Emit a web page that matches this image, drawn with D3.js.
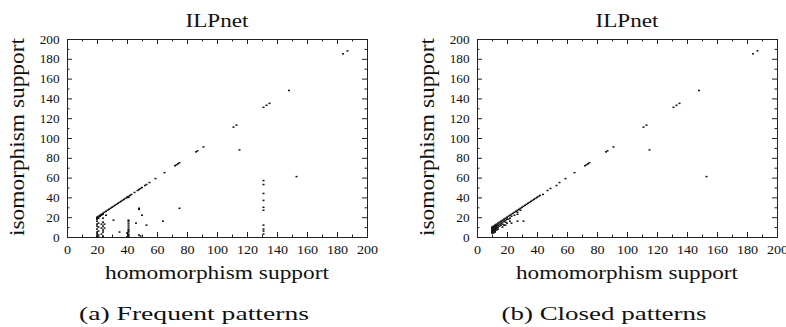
<!DOCTYPE html>
<html>
<head>
<meta charset="utf-8">
<script src="https://cdn.jsdelivr.net/npm/d3@7"></script>
<style>
  body { margin: 0; background: #fff; }
  svg text { font-family: "Liberation Serif", Tinos, "Times New Roman", Times, "DejaVu Serif", serif; }
</style>
</head>
<body>
<svg id="chart" width="786" height="327"></svg>
<script>
// tick values shared by both panels
const majorTicks = [0, 20, 40, 60, 80, 100, 120, 140, 160, 180, 200];
const minorTicks = [10, 30, 50, 70, 90, 110, 130, 150, 170, 190];

// (a) frequent patterns: [homomorphism support, isomorphism support]
const freqDiagonal = [[20,20],[21,21],[22,22],[23,23],[24,24],[25,25],[26,26],[27,27],[28,28],[29,29],
  [30,30],[31,31],[32,32],[33,33],[34,34],[35,35],[36,36],[37,37],[38,38],[39,39],[40,40],[41,41],
  [42,42],[43,43],[45,45],[47,47],[48,48],[49,49],[50,50],[52,52],[53,53],[55,55],[59,59],[65,65],
  [72,72],[73,73],[74,74],[75,75],[86,86],[87,87],[91,91],[111,111],[113,113],[131,131],[133,133],
  [135,135],[148,148],[184,185],[187,188],
  [20,19],[21,20],[22,21],[23,22],[24,23],[21,19],[40,40],[41,40]];
const freqColumns = [[20,0],[20,1],[20,3],[20,5],[20,8],[20,11],[20,13],[20,16],[20,18],
  [21,0],[21,2],[21,6],[21,10],[21,14],
  [23,3],[23,9],[23,13],[24,0],[24,1],[24,5],[24,7],[24,11],[24,15],[24,19],
  [25,9],[25,13],
  [41,0],[41,1],[41,2],[41,3],[41,5],[41,6],[41,7],[41,8],[41,10],[41,12],
  [41,14],[41,16],[41,17],[40,0],[40,4],
  [131,57],[131,53],[131,44],[131,37],[131,30],[131,27],[131,12],[131,8],[131,6],[131,3]];
const freqScatter = [[26,22],[31,17],[35,5],[46,14],[48,29],[48,28],[50,22],[53,12],[48,2],[49,1],
  [64,16],[75,29],[115,88],[153,61]];

// (b) closed patterns
const closedCluster = [[10,4],[10,5],[10,6],[10,7],[10,8],[10,9],[11,4],[11,5],[11,6],[11,7],[11,8],
  [11,9],[11,10],[12,5],[12,6],[12,7],[12,8],[12,9],[12,10],[12,11],[13,7],[13,8],[13,9],[13,10],
  [13,11],[13,12],[14,8],[14,10],[14,12],[15,11],[16,12],[17,13],[17,10],[18,12],[19,12]];
const closedDiagonal = [[10,10],[11,11],[12,12],[13,13],[14,14],[15,15],[16,16],[17,17],[18,18],
  [19,19],[20,20],[21,21],[22,22],[23,23],[24,24],[25,25],[26,26],[27,27],[28,28],[29,29],[30,30],
  [31,31],[32,32],[33,33],[34,34],[35,35],[36,36],[37,37],[38,38],[39,39],[40,40],[41,41],[42,42],
  [44,43],[47,47],[49,49],[53,52],[55,55],[59,59],[65,65],[72,72],[73,73],[74,74],[75,75],[86,86],
  [87,87],[91,91],[111,111],[113,113],[131,131],[133,133],[135,135],[148,148],[184,185],[187,188],
  [15,13],[16,14],[17,15],[18,16],[19,17],[20,18],[22,19],[23,21],[25,22],[27,25],[29,27]];
const closedScatter = [[19,15],[20,14],[21,18],[23,14],[22,16],[27,23],[27,16],[31,16],
  [115,88],[153,61]];

const serif = "'Liberation Serif', Tinos, 'Times New Roman', Times, 'DejaVu Serif', serif";
const svg = d3.select("#chart");
const W = 300, H = 198;
const x = d3.scaleLinear().domain([0, 200]).range([0, W]);
const y = d3.scaleLinear().domain([0, 200]).range([H, 0]);

function drawPanel(left, caption, captionLen, labelX, sets) {
  const g = svg.append("g").attr("transform", `translate(${left},39)`);

  const styleAxis = a => {
    a.attr("font-family", serif);
    a.selectAll("path, line").attr("stroke", "#222");
    a.selectAll("text").attr("font-family", serif).attr("font-size", 12.5).attr("fill", "#111");
  };

  // minor ticks, inside, all four sides
  g.append("g").attr("transform", `translate(0,${H})`)
    .call(d3.axisBottom(x).tickValues(minorTicks).tickSizeInner(-2.5).tickSizeOuter(0).tickFormat(""))
    .call(styleAxis);
  g.append("g")
    .call(d3.axisTop(x).tickValues(minorTicks).tickSizeInner(-2.5).tickSizeOuter(0).tickFormat(""))
    .call(styleAxis);
  g.append("g")
    .call(d3.axisLeft(y).tickValues(minorTicks).tickSizeInner(-2.5).tickSizeOuter(0).tickFormat(""))
    .call(styleAxis);
  g.append("g").attr("transform", `translate(${W},0)`)
    .call(d3.axisRight(y).tickValues(minorTicks).tickSizeInner(-2.5).tickSizeOuter(0).tickFormat(""))
    .call(styleAxis);

  // major ticks
  g.append("g").attr("transform", `translate(0,${H})`)
    .call(d3.axisBottom(x).tickValues(majorTicks).tickSizeInner(-5).tickSizeOuter(0).tickPadding(8).tickFormat(d3.format("d")))
    .call(styleAxis)
    .selectAll("text").attr("transform", "scale(1.13,1)");
  g.append("g")
    .call(d3.axisTop(x).tickValues(majorTicks).tickSizeInner(-5).tickSizeOuter(0).tickFormat(""))
    .call(styleAxis);
  g.append("g")
    .call(d3.axisLeft(y).tickValues(majorTicks).tickSizeInner(-5).tickSizeOuter(0).tickPadding(7).tickFormat(d3.format("d")))
    .call(styleAxis)
    .selectAll("text").attr("transform", "scale(1.06,1)");
  g.append("g").attr("transform", `translate(${W},0)`)
    .call(d3.axisRight(y).tickValues(majorTicks).tickSizeInner(-5).tickSizeOuter(0).tickFormat(""))
    .call(styleAxis);

  // points
  sets.forEach(set => {
    g.append("g").selectAll("rect").data(set).join("rect")
      .attr("x", d => x(d[0]) - 1)
      .attr("y", d => y(d[1]) - 0.75)
      .attr("width", 2)
      .attr("height", 1.5)
      .attr("fill", "#111");
  });

  // texts
  const label = (sel, size, len) => sel
    .attr("text-anchor", "middle").attr("font-family", serif).attr("font-size", size).attr("fill", "#111")
    .attr("textLength", len).attr("lengthAdjust", "spacingAndGlyphs");

  g.append("text").attr("x", W / 2).attr("y", -11.7)
    .call(label, 19, 63).text("ILPnet");
  g.append("text").attr("x", W / 2).attr("y", 240.3)
    .call(label, 19, labelX).text("homomorphism support");
  g.append("text").attr("transform", `translate(-43.5,${H / 2 - 1}) rotate(-90)`)
    .call(label, 20, 198).text("isomorphism support");
  g.append("text").attr("x", W / 2 - 23).attr("y", 281)
    .call(label, 19, captionLen).text(caption);
}

drawPanel(67, "(a) Frequent patterns", 230, 224, [freqDiagonal, freqColumns, freqScatter]);
drawPanel(477, "(b) Closed patterns", 205, 222, [closedCluster, closedDiagonal, closedScatter]);
</script>
</body>
</html>
